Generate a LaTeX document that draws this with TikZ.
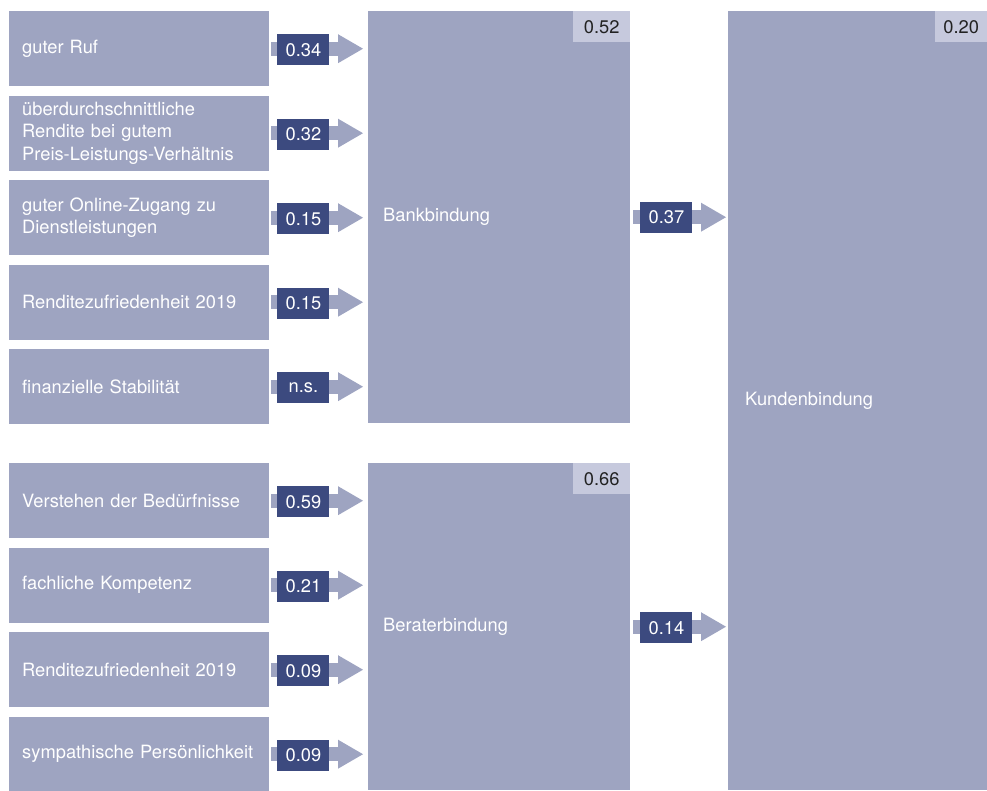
\documentclass[tikz,border=0pt]{standalone}
\usepackage{fontspec}
\setmainfont{TeX Gyre Heros}
\usetikzlibrary{arrows.meta,calc}
\definecolor{boxc}{HTML}{9EA4C1}
\definecolor{darkc}{HTML}{3C4A7F}
\definecolor{tagc}{HTML}{C6C9DD}
\definecolor{tagtext}{HTML}{222222}
\begin{document}
\begin{tikzpicture}[x=1pt,y=-1pt,
  every node/.style={font=\fontsize{18.3}{22.5}\selectfont},
  leftbox/.style={fill=boxc, anchor=north west, text=white, align=left,
    text width=234pt, inner xsep=13pt, inner ysep=0pt, minimum height=75pt},
  midbox/.style={fill=boxc, anchor=north west, text=white, align=left,
    text width=232pt, inner xsep=15pt, inner ysep=0pt},
  numbox/.style={fill=darkc, text=white, minimum width=52pt, minimum height=31pt, inner sep=0pt},
  tagbox/.style={fill=tagc, text=tagtext, minimum height=31pt, inner sep=0pt, anchor=north east},
  arr/.style={draw=boxc, line width=14pt,
    -{Triangle[width=29pt,length=25pt,line width=0pt]}}
]
\useasboundingbox (0,0) rectangle (987,790);
% middle and right boxes
\node[midbox, minimum height=412pt] (bank) at (368,11) {Bankbindung};
\node[midbox, minimum height=327pt] (berat) at (368,463) {Beraterbindung};
\node[fill=boxc, anchor=north west, text=white, align=left, text width=225pt,
  inner xsep=17pt, inner ysep=0pt, minimum height=779pt] (kunden) at (728,11) {Kundenbindung};
\node[tagbox, minimum width=57pt] (t1) at (bank.north east) {0.52};
\node[tagbox, minimum width=57pt] (t2) at (berat.north east) {0.66};
\node[tagbox, minimum width=52pt] (t3) at (kunden.north east) {0.20};
% left boxes
\node[leftbox] (l1) at (9,11) {guter Ruf};
\node[leftbox] (l2) at (9,95.5) {überdurchschnittliche\\Rendite bei gutem\\Preis-Leistungs-Verhältnis};
\node[leftbox] (l3) at (9,180) {guter Online-Zugang zu\\Dienstleistungen};
\node[leftbox] (l4) at (9,264.5) {Renditezufriedenheit 2019};
\node[leftbox] (l5) at (9,349) {finanzielle Stabilität};
\node[leftbox] (l6) at (9,463) {Verstehen der Bedürfnisse};
\node[leftbox] (l7) at (9,547.5) {fachliche Kompetenz};
\node[leftbox] (l8) at (9,632) {Renditezufriedenheit 2019};
\node[leftbox] (l9) at (9,716.5) {sympathische Persönlichkeit};
% arrows from left boxes
\foreach \i/\v/\m in {l1/0.34/bank,l2/0.32/bank,l3/0.15/bank,l4/0.15/bank,l5/n.s./bank,
                      l6/0.59/berat,l7/0.21/berat,l8/0.09/berat,l9/0.09/berat}{
  \draw[arr, shorten <=2pt, shorten >=5pt] (\i.east) -- (\i.east -| \m.west);
  \node[numbox] (n\i) at ($(\i.east)+(34,1)$) {\v};
}
% arrows to Kundenbindung
\draw[arr, shorten <=3pt, shorten >=2pt] (bank.east) -- (bank.east -| kunden.west);
\node[numbox] (nb) at ($(bank.east)+(36,0)$) {0.37};
\draw[arr, shorten <=3pt, shorten >=2pt] (berat.east) -- (berat.east -| kunden.west);
\node[numbox] (nc) at ($(berat.east)+(36,1)$) {0.14};
\end{tikzpicture}
\end{document}
